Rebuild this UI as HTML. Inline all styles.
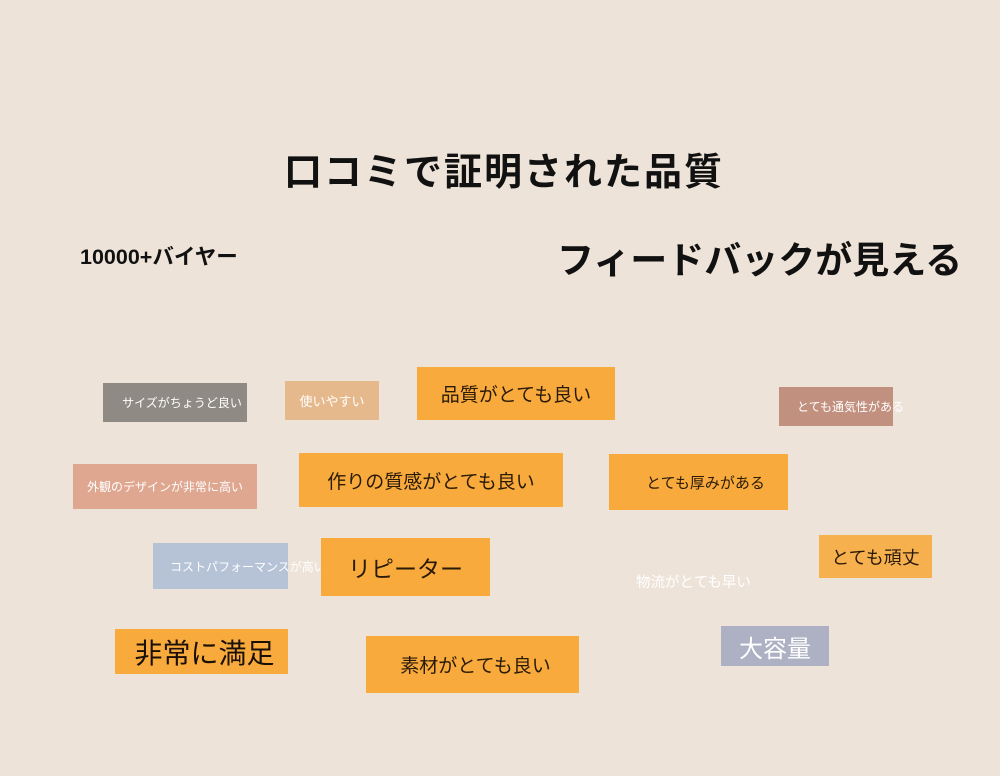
<!DOCTYPE html>
<html><head><meta charset="utf-8"><style>
body{margin:0;width:1000px;height:776px;background:#eee3d8;position:relative;overflow:hidden;font-family:"Liberation Sans","Noto Sans CJK JP",sans-serif}
.t{position:absolute;white-space:nowrap;color:#111;font-weight:bold}
.b{position:absolute;display:flex;align-items:center;justify-content:center;white-space:nowrap;box-sizing:border-box}
.o{background:#f8aa3c;color:#2a1a08}
.w{color:#fff}
</style></head><body>
<div class="t" style="left:284px;top:141px;font-size:38px;letter-spacing:2px">口コミで証明された品質</div>
<div class="t" style="left:80px;top:240px;font-size:21.5px">10000+バイヤー</div>
<div class="t" style="left:557px;top:230px;font-size:37px">フィードバックが見える</div>

<div class="b w" style="left:103px;top:383px;width:144px;height:39px;background:#8f8a84;font-size:12px;padding-left:14px">サイズがちょうど良い</div>
<div class="b w" style="left:285px;top:381px;width:94px;height:39px;background:#e6b98c;font-size:13px">使いやすい</div>
<div class="b o" style="left:417px;top:367px;width:198px;height:53px;font-size:19px">品質がとても良い</div>
<div class="b w" style="left:779px;top:387px;width:114px;height:39px;background:#c1907f;font-size:12px;justify-content:flex-start;padding-left:18px">とても通気性がある</div>

<div class="b w" style="left:73px;top:464px;width:184px;height:45px;background:#dfa690;font-size:12px">外観のデザインが非常に高い</div>
<div class="b o" style="left:299px;top:453px;width:264px;height:54px;font-size:19px">作りの質感がとても良い</div>
<div class="b o" style="left:609px;top:454px;width:179px;height:56px;font-size:15px;padding-left:14px">とても厚みがある</div>

<div class="b w" style="left:153px;top:543px;width:135px;height:46px;background:#b6c3d7;font-size:12px;justify-content:flex-start;padding-left:17px">コストパフォーマンスが高い</div>
<div class="b o" style="left:321px;top:538px;width:169px;height:58px;font-size:23px">リピーター</div>
<div class="b o" style="left:819px;top:535px;width:113px;height:43px;font-size:18px;background:#f6b04e">とても頑丈</div>
<div class="t w" style="left:636px;top:571px;font-size:14.5px;font-weight:normal;color:#fff">物流がとても早い</div>

<div class="b o" style="left:115px;top:629px;width:173px;height:45px;font-size:28px;color:#1a1008;padding-left:6px">非常に満足</div>
<div class="b o" style="left:366px;top:636px;width:213px;height:57px;font-size:19px;padding-left:6px">素材がとても良い</div>
<div class="b w" style="left:721px;top:626px;width:108px;height:40px;background:#aeb1c4;font-size:24px">大容量</div>
</body></html>
